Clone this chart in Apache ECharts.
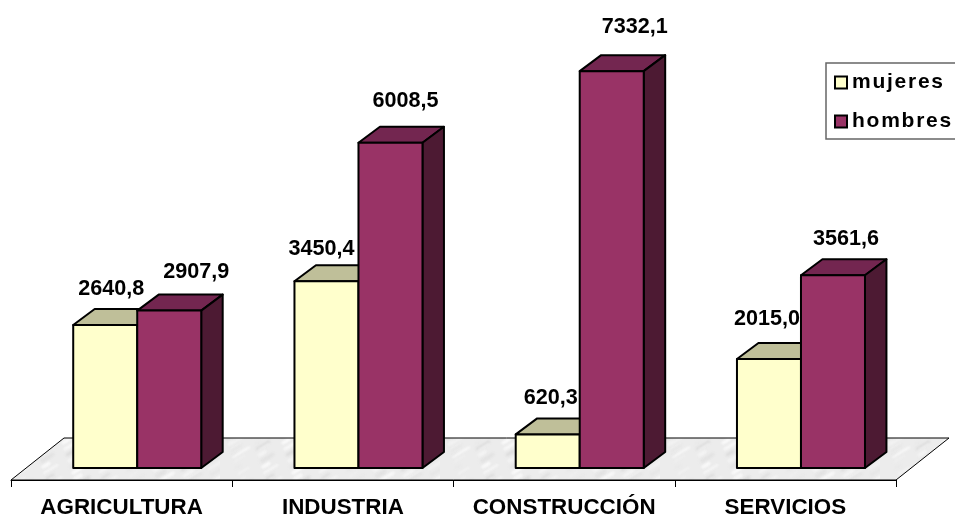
<!DOCTYPE html>
<html><head><meta charset="utf-8">
<style>html,body{margin:0;padding:0;background:#fff;overflow:hidden}#c{width:955px;height:515px}</style>
<script src="https://cdn.jsdelivr.net/npm/echarts@6/dist/echarts.min.js"></script>
</head><body><div id="c"></div>
<script>
const categories = ['AGRICULTURA', 'INDUSTRIA', 'CONSTRUCCIÓN', 'SERVICIOS'];
const mujeres = [2640.8, 3450.4, 620.3, 2015.0];
const hombres = [2907.9, 6008.5, 7332.1, 3561.6];
const seriesNames = ['mujeres', 'hombres'];

// hand-placed label nudges of the original slide (px)
const nudgeMujeres = [[6, -20], [-5, -16], [3, -20], [-2, -24]];
const nudgeHombres = [[27, -23], [15, -26], [23, -28], [13, -20]];

const FONT = '"Liberation Sans", Arial, sans-serif';

// legend text in the original is letter-spaced
const nativeFillText = CanvasRenderingContext2D.prototype.fillText;
CanvasRenderingContext2D.prototype.fillText = function (t, x, y, m) {
  const wide = seriesNames.includes(t);
  if (wide) this.letterSpacing = '1.75px';
  if (m === undefined) nativeFillText.call(this, t, x, y); else nativeFillText.call(this, t, x, y, m);
  if (wide) this.letterSpacing = '0px';
};

function floorTexture() {
  const cv = document.createElement('canvas');
  cv.width = 220; cv.height = 84;
  const g = cv.getContext('2d');
  g.fillStyle = '#ececec'; g.fillRect(0, 0, 220, 84);
  g.filter = 'blur(1.2px)';
  g.lineCap = 'round';
  for (let i = 0; i < 150; i++) {
    const x = (i * 37) % 220, y = (i * 29) % 84;
    g.strokeStyle = ['#f8f8f8', '#dcdcdc', '#f4f4f4', '#e4e4e4', '#fbfbfb'][i % 5];
    g.lineWidth = 1 + (i * 5) % 3;
    const len = 5 + (i * 7) % 12;
    g.beginPath(); g.moveTo(x, y); g.lineTo(x + len, y - len * 0.6); g.stroke();
  }
  return cv;
}
const floorFill = { image: floorTexture(), repeat: 'repeat' };

function barItem(side, colors, nudges) {
  return function (params, api) {
    const i = api.value(0), v = api.value(1);
    const band = api.size([1, 0])[0];
    const base = api.coord([i, 0]);
    const top = api.coord([i, v]);
    const w = band * 0.2893;
    const shift = band * 0.0705;
    const dx = band * 0.097, dy = 16;
    const x0 = base[0] + shift + (side < 0 ? -w : 0);
    const x1 = x0 + w;
    const line = { stroke: '#000', lineWidth: 2, lineJoin: 'round' };
    const poly = (pts, fill) => ({ type: 'polygon', shape: { points: pts }, style: Object.assign({ fill }, line) });
    const n = nudges[params.dataIndex];
    return {
      type: 'group',
      children: [
        poly([[x0, top[1]], [x0 + dx, top[1] - dy], [x1 + dx, top[1] - dy], [x1, top[1]]], colors[1]),
        poly([[x1, top[1]], [x1 + dx, top[1] - dy], [x1 + dx, base[1] - dy], [x1, base[1]]], colors[2]),
        poly([[x0, top[1]], [x1, top[1]], [x1, base[1]], [x0, base[1]]], colors[0]),
        { type: 'text', z2: 100, style: {
            text: v.toFixed(1).replace('.', ','),
            x: (x0 + x1) / 2 + n[0], y: top[1] - dy + n[1],
            align: 'center', verticalAlign: 'middle',
            font: 'bold 21.6px ' + FONT, fill: '#000' } }
      ]
    };
  };
}

function floorItem(params, api) {
  const c = params.coordSys;
  const yFront = c.y + c.height + 12, yBack = yFront - 42;
  const left = c.x, right = c.x + c.width, dx = 53;
  return {
    type: 'polygon',
    shape: { points: [[left, yFront], [right, yFront], [right + dx, yBack], [left + dx, yBack]] },
    style: { fill: floorFill, stroke: '#000', lineWidth: 1 }
  };
}

const chart = echarts.init(document.getElementById('c'), null, { renderer: 'canvas' });
chart.setOption({
  animation: false,
  backgroundColor: '#fff',
  grid: { left: 11, right: 59, top: 35, bottom: 47, containLabel: false, outerBoundsMode: 'none' },
  xAxis: {
    type: 'category', data: categories, offset: 12,
    axisLine: { onZero: false, lineStyle: { color: '#000', width: 1 } },
    axisTick: { show: true, length: 7, alignWithLabel: false, lineStyle: { color: '#000', width: 1 } },
    axisLabel: { color: '#000', fontFamily: FONT, fontWeight: 'bold', fontSize: 22.4, margin: 17, interval: 0 }
  },
  yAxis: { type: 'value', min: 0, max: 8000, show: false, splitLine: { show: false } },
  legend: {
    orient: 'vertical', left: 826, top: 63, itemWidth: 12, itemHeight: 12, itemGap: 18,
    padding: [9, 40, 7, 8], borderColor: '#666', borderWidth: 1.5, backgroundColor: '#fff',
    selectedMode: false,
    textStyle: { fontFamily: FONT, fontWeight: 'bold', fontSize: 21, color: '#000' },
    data: [
      { name: 'mujeres', icon: 'rect', itemStyle: { color: '#FFFFCC', borderColor: '#000', borderWidth: 2 } },
      { name: 'hombres', icon: 'rect', itemStyle: { color: '#993366', borderColor: '#000', borderWidth: 2 } }
    ]
  },
  series: [
    { type: 'custom', name: 'floor', silent: true, clip: false, z: 1, data: [[0, 0]], encode: { x: 0, y: 1 }, renderItem: floorItem },
    { type: 'custom', name: seriesNames[0], clip: false, z: 2, encode: { x: 0, y: 1 },
      data: mujeres.map((v, i) => [i, v]),
      renderItem: barItem(-1, ['#FFFFCC', '#BFBF99', '#80805F'], nudgeMujeres) },
    { type: 'custom', name: seriesNames[1], clip: false, z: 3, encode: { x: 0, y: 1 },
      data: hombres.map((v, i) => [i, v]),
      renderItem: barItem(1, ['#993366', '#732650', '#4D1A33'], nudgeHombres) }
  ]
});
</script></body></html>
